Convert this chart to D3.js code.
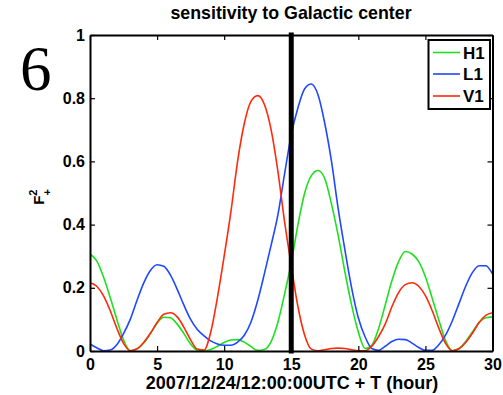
<!DOCTYPE html>
<html>
<head>
<meta charset="utf-8">
<script src="https://cdn.jsdelivr.net/npm/d3@7/dist/d3.min.js"></script>
<style>
  html, body { margin: 0; padding: 0; background: #fff; }
  svg { display: block; }
</style>
</head>
<body>
<svg id="chart" width="503" height="395"></svg>
<script>
// Hours after 2007/12/24 12:00:00 UTC, sampled every half hour
const hours = d3.range(0, 30.001, 0.5);

// Squared plus-polarisation antenna response toward the Galactic center
const h1 = [0.307, 0.285, 0.235, 0.170, 0.100, 0.035, 0.001, 0.006, 0.025, 0.055,
            0.088, 0.107, 0.105, 0.085, 0.055, 0.022, 0.003, 0.001, 0.005, 0.015,
            0.027, 0.035, 0.036, 0.028, 0.014, 0.002, 0.005, 0.030, 0.090, 0.180,
            0.280, 0.400, 0.500, 0.555, 0.571, 0.545, 0.465, 0.365, 0.250, 0.145,
            0.060, 0.008, 0.018, 0.070, 0.145, 0.222, 0.283, 0.315, 0.307, 0.283,
            0.235, 0.168, 0.098, 0.033, 0.001, 0.008, 0.030, 0.060, 0.090, 0.105,
            0.108];
const l1 = [0.022, 0.010, 0.001, 0.003, 0.020, 0.055, 0.100, 0.160, 0.215, 0.255,
            0.273, 0.268, 0.240, 0.195, 0.145, 0.100, 0.068, 0.048, 0.032, 0.022,
            0.018, 0.018, 0.028, 0.050, 0.092, 0.160, 0.245, 0.335, 0.430, 0.560,
            0.685, 0.770, 0.830, 0.845, 0.810, 0.720, 0.600, 0.450, 0.320, 0.200,
            0.105, 0.045, 0.008, 0.002, 0.015, 0.030, 0.037, 0.036, 0.025, 0.011,
            0.002, 0.002, 0.020, 0.050, 0.095, 0.150, 0.205, 0.248, 0.270, 0.270,
            0.244];
const v1 = [0.216, 0.205, 0.175, 0.128, 0.072, 0.024, 0.001, 0.007, 0.027, 0.056,
            0.090, 0.116, 0.121, 0.108, 0.075, 0.035, 0.006, 0.003, 0.060, 0.170,
            0.300, 0.440, 0.600, 0.720, 0.790, 0.808, 0.780, 0.700, 0.570, 0.410,
            0.270, 0.140, 0.050, 0.006, 0.001, 0.004, 0.008, 0.009, 0.008, 0.004,
            0.001, 0.001, 0.015, 0.045, 0.085, 0.140, 0.185, 0.210, 0.216, 0.205,
            0.175, 0.128, 0.072, 0.024, 0.001, 0.007, 0.027, 0.056, 0.090, 0.113,
            0.121];

const detectors = ["H1", "L1", "V1"];
const series = [h1, l1, v1];
const colors = ["#1ee01e", "#1f48ff", "#ff2a0a"];

const xTicks = [0, 5, 10, 15, 20, 25, 30];
const yTicks = [0, 0.2, 0.4, 0.6, 0.8, 1];
const markerHour = 15;

const sans = "'Liberation Sans', Arial, Helvetica, sans-serif";
const svg = d3.select("#chart");
const x = d3.scaleLinear().domain([0, 30]).range([90, 492.5]);
const y = d3.scaleLinear().domain([0, 1]).range([351, 35]);

// plot background
svg.append("rect")
  .attr("x", x(0)).attr("y", y(1))
  .attr("width", x(30) - x(0)).attr("height", y(0) - y(1))
  .attr("fill", "#fff");

// curves
const line = d3.line()
  .x((d, i) => x(hours[i]))
  .y(d => y(d))
  .curve(d3.curveMonotoneX);

series.forEach((vals, k) => {
  svg.append("path")
    .datum(vals)
    .attr("d", line)
    .attr("fill", "none")
    .attr("stroke", colors[k])
    .attr("stroke-width", 1.6);
});

// time of interest
svg.append("line")
  .attr("x1", x(markerHour)).attr("x2", x(markerHour))
  .attr("y1", y(1)).attr("y2", y(0))
  .attr("stroke", "#000")
  .attr("stroke-width", 5)
  .attr("stroke-linecap", "square");

// axes with inward ticks
const fmt = d3.format("~g");
const gx = svg.append("g").attr("transform", `translate(0,${y(0)})`)
  .call(d3.axisBottom(x).tickValues(xTicks).tickFormat(fmt).tickSizeInner(-5).tickSizeOuter(0).tickPadding(8));
const gxTop = svg.append("g").attr("transform", `translate(0,${y(1)})`)
  .call(d3.axisTop(x).tickValues(xTicks).tickFormat("").tickSizeInner(-5).tickSizeOuter(0));
const gy = svg.append("g").attr("transform", `translate(${x(0)},0)`)
  .call(d3.axisLeft(y).tickValues(yTicks).tickFormat(fmt).tickSizeInner(-5).tickSizeOuter(0).tickPadding(5));
const gyRight = svg.append("g").attr("transform", `translate(${x(30)},0)`)
  .call(d3.axisRight(y).tickValues(yTicks).tickFormat("").tickSizeInner(-5).tickSizeOuter(0));

[gx, gxTop, gy, gyRight].forEach(g => {
  g.select(".domain").attr("stroke", "#000").attr("stroke-width", 2);
  g.selectAll(".tick line").attr("stroke", "#000").attr("stroke-width", 1.2);
  g.selectAll("text")
    .attr("font-family", sans).attr("font-weight", "bold")
    .attr("font-size", 16).attr("fill", "#000");
});

// title
svg.append("text")
  .attr("x", 291).attr("y", 19)
  .attr("text-anchor", "middle")
  .attr("font-family", sans).attr("font-weight", "bold")
  .attr("font-size", 17.8)
  .text("sensitivity to Galactic center");

// x axis label
svg.append("text")
  .attr("x", 292).attr("y", 389)
  .attr("text-anchor", "middle")
  .attr("font-family", sans).attr("font-weight", "bold")
  .attr("font-size", 18)
  .text("2007/12/24/12:00:00UTC + T (hour)");

// y axis label: F squared, plus polarisation
const yl = svg.append("text")
  .attr("transform", "translate(44,197) rotate(-90)")
  .attr("text-anchor", "middle")
  .attr("font-family", sans).attr("font-weight", "bold")
  .attr("font-size", 15);
yl.append("tspan").text("F");
yl.append("tspan").attr("font-size", 11).attr("dy", -7).text("2");
yl.append("tspan").attr("font-size", 11).attr("dx", -6).attr("dy", 14).text("+");

// panel number
svg.append("text")
  .attr("x", 20).attr("y", 90)
  .attr("font-family", "'Liberation Serif', 'Times New Roman', serif")
  .attr("font-weight", "normal")
  .attr("font-size", 63)
  .text("6");

// legend
const lg = svg.append("g");
lg.append("rect")
  .attr("x", 428.5).attr("y", 40)
  .attr("width", 61.5).attr("height", 69)
  .attr("fill", "#fff").attr("stroke", "#000").attr("stroke-width", 2);
const rowY = [52.5, 74, 96];
detectors.forEach((name, k) => {
  lg.append("line")
    .attr("x1", 433).attr("x2", 460)
    .attr("y1", rowY[k]).attr("y2", rowY[k])
    .attr("stroke", colors[k]).attr("stroke-width", 1.6);
  lg.append("text")
    .attr("x", 463).attr("y", rowY[k] + 6)
    .attr("font-family", sans).attr("font-weight", "bold")
    .attr("font-size", 17)
    .text(name);
});
</script>
</body>
</html>
